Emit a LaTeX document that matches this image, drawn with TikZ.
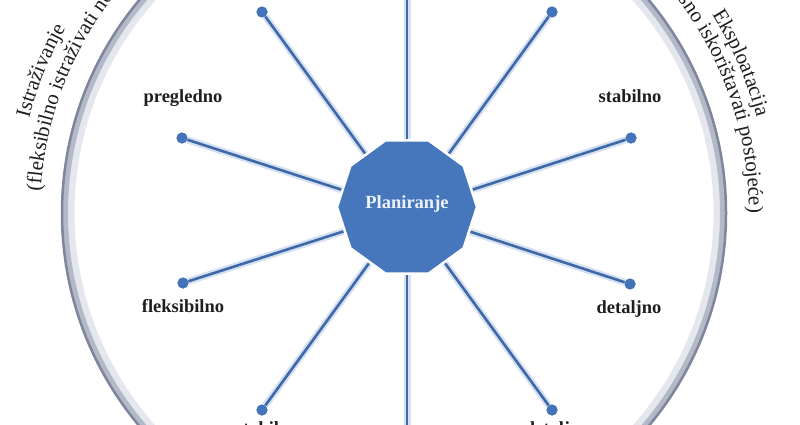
\documentclass[tikz,border=0pt]{standalone}
\usepackage{fontspec}
\setmainfont{Liberation Serif}
\usetikzlibrary{shapes.geometric,decorations.text}
\definecolor{spokecol}{HTML}{3E68A8}
\definecolor{glowcol}{HTML}{D5E1F2}
\definecolor{polyfill}{HTML}{4677BD}
\definecolor{dotcol}{HTML}{4373B8}
\definecolor{ringdark}{HTML}{7E859C}
\definecolor{ringmid}{HTML}{B4B9C8}
\definecolor{ringlight}{HTML}{E4E7EE}
\definecolor{txtcol}{HTML}{1E1E1E}
\definecolor{plantxt}{HTML}{EEF2FA}
\newcommand{\lblfont}{\fontsize{18.5}{22}\selectfont\bfseries}
\newcommand{\arcfont}{\fontsize{21}{25}\selectfont}
\begin{document}
\begin{tikzpicture}[x=1pt,y=1pt,
  spoke/.style={draw=spokecol, line width=2.6pt, preaction={draw=glowcol, line width=7pt}},
  dotnode/.style={circle, fill=dotcol, minimum size=11pt, inner sep=0pt},
  lbl/.style={font=\lblfont, text=txtcol, inner sep=0pt, anchor=base},
  hubpoly/.style={regular polygon, regular polygon sides=10, minimum size=140pt, inner sep=0pt, fill=polyfill, draw=white, line width=2.5pt}]
\useasboundingbox (0,0) rectangle (800,424);
\fill[white] (0,0) rectangle (800,424);
\clip (0,0) rectangle (800,424);
% ring
\coordinate (C) at (394,211);
\draw[line width=13pt, ringlight] (C) circle[radius=326];
\draw[line width=6pt, ringmid] (C) circle[radius=329];
\draw[line width=2.5pt, ringdark] (C) circle[radius=332];
% arc texts
\path[decorate, decoration={text along path, text color=txtcol, text align=left,
  text={|\arcfont|(fleksibilno istraživati novo)}}]
  (C) ++(176.5:354) arc[start angle=176.5, end angle=100, radius=354];
\path[decorate, decoration={text along path, text color=txtcol, text align=left,
  text={|\arcfont|Istraživanje}}]
  (C) ++(165.5:377) arc[start angle=165.5, end angle=110, radius=377];
\path[decorate, decoration={text along path, text color=txtcol, text align=left,
  text={|\arcfont|Eksploatacija}}]
  (C) ++(32:375) arc[start angle=32, end angle=-10, radius=375];
\path[decorate, decoration={text along path, text color=txtcol, text align=right,
  text={|\arcfont|(svjesno iskorištavati postojeće)}}]
  (C) ++(80:355) arc[start angle=80, end angle=0, radius=355];
% hub and dots
\coordinate (hub) at (407,213);
\coordinate (topend) at (407,440);
\coordinate (botend) at (407,-20);
\node[dotnode] (dul) at (262,412) {};
\node[dotnode] (dur) at (552,412) {};
\node[dotnode] (dlu) at (182,286) {};
\node[dotnode] (dru) at (631,286) {};
\node[dotnode] (dld) at (183,141) {};
\node[dotnode] (drd) at (630,140) {};
\node[dotnode] (dbl) at (262,14) {};
\node[dotnode] (dbr) at (552,14) {};
\foreach \d in {dul,dur,dlu,dru,dld,drd,dbl,dbr,topend,botend}
  \draw[spoke] (hub) -- (\d);
\foreach \d in {dul,dur,dlu,dru,dld,drd,dbl,dbr}
  \fill[dotcol] (\d) circle[radius=5.5pt];
% center polygon
\node[hubpoly] (plan) at (407,217) {};
\node[lbl, text=plantxt] (plantxt) at (407,216) {Planiranje};
% labels
\node[lbl] (pregl) at (183,321) {pregledno};
\node[lbl] (stab) at (630,321) {stabilno};
\node[lbl] (fleks) at (183,112) {fleksibilno};
\node[lbl] (detal) at (629,111) {detaljno};
\node[lbl] (nestab) at (258,-10) {nestabilno};
\node[lbl] (nedet) at (548,-10) {nedetaljno};
\end{tikzpicture}
\end{document}
